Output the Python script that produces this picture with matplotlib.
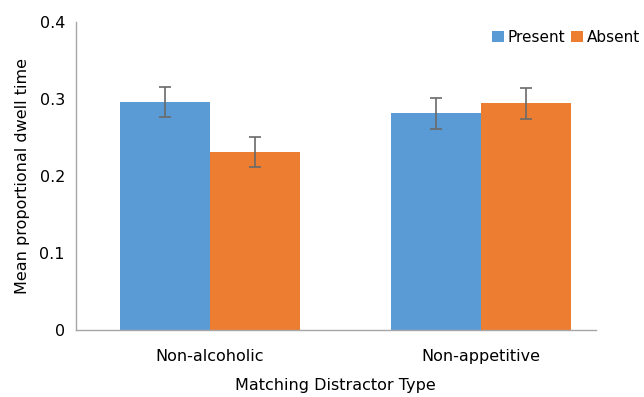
import matplotlib
matplotlib.use("Agg")
import matplotlib.pyplot as plt
import numpy as np

# data
categories = ["Non-alcoholic", "Non-appetitive"]
present = [0.296, 0.281]
absent = [0.231, 0.294]
present_err = [0.020, 0.020]
absent_err = [0.020, 0.020]
yticks = [0, 0.1, 0.2, 0.3, 0.4]
ytick_labels = ["0", "0.1", "0.2", "0.3", "0.4"]

blue = "#5B9BD5"
orange = "#ED7D31"

plt.rcParams["font.family"] = ["DejaVu Sans"]
fs = 11.5

fig = plt.figure(figsize=(6.44, 3.97), dpi=100)
ax = fig.add_axes([0.118, 0.169, 0.807, 0.776])

x = np.arange(len(categories))
w = 0.332
err_kw = dict(ecolor="#6a6a6a", elinewidth=1.2, capsize=4, capthick=1.2)
ax.bar(x - w / 2, present, w, color=blue, yerr=present_err, error_kw=err_kw, label="Present")
ax.bar(x + w / 2, absent, w, color=orange, yerr=absent_err, error_kw=err_kw, label="Absent")

ax.set_xlim(-0.494, 1.424)
ax.set_ylim(0, 0.4)
ax.set_xticks(x)
ax.set_xticklabels(categories, fontsize=fs)
ax.set_yticks(yticks)
ax.set_yticklabels(ytick_labels, fontsize=fs)
ax.tick_params(axis="y", length=0, pad=8)
ax.tick_params(axis="x", length=0, pad=14)

for s in ["top", "right"]:
    ax.spines[s].set_visible(False)
for s in ["left", "bottom"]:
    ax.spines[s].set_color("#a6a6a6")
    ax.spines[s].set_linewidth(1)

ax.set_ylabel("Mean proportional dwell time", fontsize=fs, labelpad=7)
ax.set_xlabel("Matching Distractor Type", fontsize=fs, labelpad=10)

ax.legend(loc="center right", bbox_to_anchor=(1.085, 0.95), ncol=2, frameon=False,
          fontsize=11, handlelength=0.75, handleheight=0.75, handletextpad=0.25,
          columnspacing=0.4, borderaxespad=0, borderpad=0)

fig.savefig("out.png", dpi=100)
